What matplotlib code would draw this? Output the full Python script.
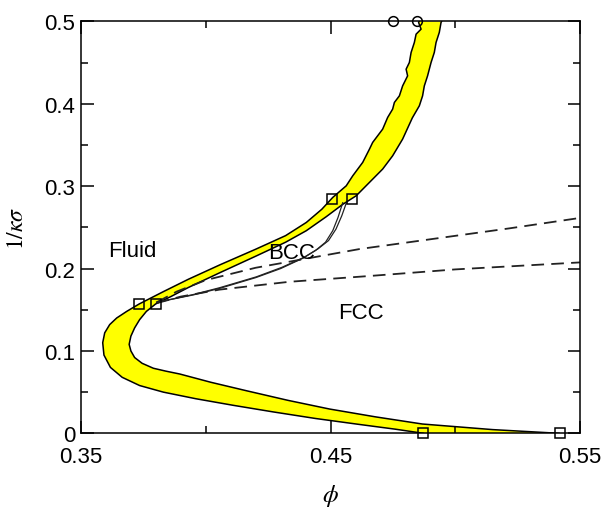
import numpy as np
import matplotlib
matplotlib.use("Agg")
import matplotlib.pyplot as plt

plt.rcParams['font.family'] = ['Liberation Sans', 'DejaVu Sans']
plt.rcParams['mathtext.fontset'] = 'stix'

# fluid boundary of the coexistence band (outer edge)
fluid_phi = [0.4872, 0.4760, 0.4610, 0.4440, 0.4270, 0.4110, 0.3960, 0.3830, 0.3735, 0.3665,
             0.3618, 0.3592, 0.3587, 0.3595, 0.3615, 0.3643, 0.3683, 0.3733, 0.3830, 0.3930,
             0.4060, 0.4200, 0.4320, 0.4403, 0.4465, 0.4509, 0.4563, 0.4589, 0.4629, 0.4656,
             0.4669, 0.4709, 0.4729, 0.4749, 0.4756, 0.4776, 0.4789, 0.4809, 0.4803, 0.4816,
             0.4823, 0.4836, 0.4843, 0.4863, 0.4853, 0.4855]
fluid_y = [0.0, 0.005, 0.011, 0.018, 0.026, 0.034, 0.042, 0.050, 0.058, 0.068,
           0.080, 0.095, 0.110, 0.122, 0.132, 0.140, 0.148, 0.157, 0.172, 0.187,
           0.205, 0.2235, 0.240, 0.256, 0.272, 0.2864, 0.3005, 0.3126, 0.3289, 0.3450,
           0.3532, 0.3693, 0.3835, 0.3936, 0.4017, 0.4097, 0.4218, 0.4340, 0.4421, 0.4502,
           0.4624, 0.4745, 0.4846, 0.4907, 0.4988, 0.5]

# solid boundary (inner edge)
solid_phi = [0.5416, 0.5150, 0.4868, 0.4680, 0.4496, 0.4330, 0.4163, 0.4020, 0.3896, 0.3840,
             0.3790, 0.3745, 0.3715, 0.3700, 0.3693, 0.3700, 0.3715, 0.3735, 0.3762, 0.3799,
             0.3860, 0.3930, 0.4060, 0.4200, 0.4320, 0.4403, 0.4483, 0.4549, 0.4603, 0.4656,
             0.4709, 0.4749, 0.4789, 0.4828, 0.4856, 0.4869, 0.4876, 0.4889, 0.4903, 0.4916,
             0.4923, 0.4936, 0.4943, 0.4945]
solid_y = [0.0, 0.0045, 0.0113, 0.0200, 0.0295, 0.040, 0.0517, 0.062, 0.072, 0.0755,
           0.079, 0.085, 0.092, 0.100, 0.108, 0.118, 0.128, 0.138, 0.148, 0.157,
           0.166, 0.177, 0.1955, 0.215, 0.232, 0.246, 0.263, 0.278, 0.2884, 0.3046,
           0.3208, 0.3369, 0.3572, 0.383, 0.3976, 0.4097, 0.4218, 0.4340, 0.4502, 0.4624,
           0.4745, 0.4867, 0.4988, 0.5]

# bcc-fcc coexistence lines
bcc1_phi = [0.3803, 0.3950, 0.4056, 0.4200, 0.4300, 0.4389, 0.4440, 0.4480, 0.4509, 0.4530, 0.4549]
bcc1_y = [0.159, 0.168, 0.176, 0.189, 0.200, 0.2125, 0.222, 0.232, 0.246, 0.262, 0.280]
bcc2_phi = [0.3803, 0.3950, 0.4056, 0.4203, 0.4305, 0.4396, 0.4450, 0.4492, 0.4522, 0.4545, 0.4565]
bcc2_y = [0.159, 0.1685, 0.1768, 0.190, 0.2015, 0.214, 0.224, 0.234, 0.248, 0.264, 0.281]

# dashed lines
dash1_phi = [0.3803, 0.3883, 0.400, 0.420, 0.4616, 0.5216, 0.55]
dash1_y = [0.159, 0.172, 0.186, 0.201, 0.2237, 0.2488, 0.2615]
dash2_phi = [0.3803, 0.390, 0.4056, 0.4336, 0.4656, 0.50, 0.55]
dash2_y = [0.158, 0.166, 0.1745, 0.184, 0.191, 0.199, 0.2075]

# simulation points
sq_phi = [0.3733, 0.3799, 0.4507, 0.4587, 0.4872, 0.5419]
sq_y = [0.157, 0.157, 0.285, 0.285, 0.0, 0.0]
circ_phi = [0.4752, 0.4848]
circ_y = [0.5, 0.5]

xticks = [0.35, 0.45, 0.55]
xticklabels = ['0.35', '0.45', '0.55']
yticks = [0, 0.1, 0.2, 0.3, 0.4, 0.5]
yticklabels = ['0', '0.1', '0.2', '0.3', '0.4', '0.5']

fig = plt.figure(figsize=(6.04, 5.10), dpi=100)
ax = fig.add_axes([0.1341, 0.1484, 0.8262, 0.8075])

band_x = np.concatenate([fluid_phi, solid_phi[::-1]])
band_y = np.concatenate([fluid_y, solid_y[::-1]])
ax.fill(band_x, band_y, color='#ffff00', lw=0, zorder=1)
ax.plot(fluid_phi, fluid_y, color='black', lw=1.1, zorder=2)
ax.plot(solid_phi, solid_y, color='black', lw=1.1, zorder=2)

ax.plot(bcc1_phi, bcc1_y, color='#222222', lw=0.9, zorder=2)
ax.plot(bcc2_phi, bcc2_y, color='#222222', lw=0.9, zorder=2)

ax.plot(dash1_phi, dash1_y, color='#222222', lw=1.3, dashes=(7, 4), zorder=2)
ax.plot(dash2_phi, dash2_y, color='#222222', lw=1.3, dashes=(7, 4), zorder=2)

ax.plot(sq_phi, sq_y, 's', ms=7, mfc='none', mec='black', mew=1.1, clip_on=False, zorder=5)
ax.plot(circ_phi, circ_y, 'o', ms=7, mfc='none', mec='black', mew=1.1, clip_on=False, zorder=5)

ax.text(0.3706, 0.2216, 'Fluid', fontsize=16, ha='center', va='center')
ax.text(0.4343, 0.2197, 'BCC', fontsize=16, ha='center', va='center')
ax.text(0.4623, 0.1468, 'FCC', fontsize=16, ha='center', va='center')

ax.set_xlim(0.35, 0.55)
ax.set_ylim(0, 0.5)
ax.set_xticks(xticks)
ax.set_xticklabels(xticklabels)
ax.set_xticks([0.40, 0.50], minor=True)
ax.set_yticks(yticks)
ax.set_yticklabels(yticklabels)
ax.set_yticks(np.arange(0.05, 0.5, 0.1), minor=True)
ax.tick_params(which='both', direction='in', top=True, right=True, width=1.1, labelsize=16)
ax.tick_params(which='major', length=9)
ax.tick_params(which='minor', length=5)
ax.tick_params(axis='x', pad=9)
ax.tick_params(axis='y', pad=4)
for s in ax.spines.values():
    s.set_linewidth(1.1)

ax.set_xlabel(r'$\phi$', fontsize=18, labelpad=11)
ax.set_ylabel(r'$1/\kappa\sigma$', fontsize=17, labelpad=12)

fig.savefig('out.png', dpi=100)
